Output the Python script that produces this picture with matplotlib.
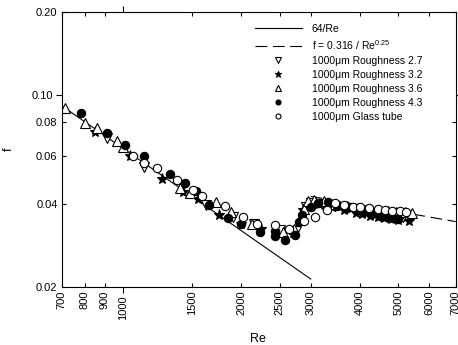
import matplotlib
matplotlib.use('Agg')
import matplotlib.pyplot as plt
import numpy as np

plt.rcParams['font.family'] = ['Liberation Sans', 'DejaVu Sans']
plt.rcParams['mathtext.fontset'] = 'custom'
plt.rcParams['mathtext.rm'] = 'Liberation Sans'
plt.rcParams['mathtext.default'] = 'regular'
plt.rcParams['lines.scale_dashes'] = False

# theory lines (end points, f from the formula in the legend)
re_lam = np.array([700, 3000])
re_turb = np.array([3000, 7000])

re_27 = [910, 1133, 1420, 1630, 1900, 2150, 2500, 2750, 2920, 3000, 3200, 3450, 3700, 3950,
         4200, 4400, 4650, 4900, 5150]
f_27 = [0.0695, 0.0545, 0.0465, 0.0397, 0.0360, 0.0338, 0.0322, 0.0318, 0.0390, 0.0405,
        0.0402, 0.0395, 0.0388, 0.0380, 0.0375, 0.0370, 0.0367, 0.0362, 0.0358]

re_32 = [852, 1044, 1256, 1422, 1553, 1752, 2000, 2250, 2700, 2870, 2950, 3150, 3400, 3650,
         3900, 4050, 4250, 4450, 4600, 4800, 5000, 5330]
f_32 = [0.0735, 0.0600, 0.0496, 0.0442, 0.0419, 0.0365, 0.0340, 0.0325, 0.0315, 0.0380,
        0.0395, 0.0400, 0.0392, 0.0380, 0.0372, 0.0368, 0.0362, 0.0358, 0.0356, 0.0353,
        0.0351, 0.0348]

re_36 = [714, 802, 859, 965, 1003, 1395, 1480, 1720, 1880, 2125, 2555, 2715, 2880, 2950,
         3050, 3250, 3450, 3700, 3950, 4200, 4450, 4700, 4950, 5200, 5420]
f_36 = [0.0895, 0.0793, 0.0757, 0.0680, 0.0645, 0.0458, 0.0440, 0.0408, 0.0375, 0.0340,
        0.0317, 0.0326, 0.0384, 0.0410, 0.0415, 0.0410, 0.0402, 0.0395, 0.0388, 0.0383,
        0.0380, 0.0377, 0.0375, 0.0373, 0.0372]

re_43 = [784, 910, 1013, 1133, 1318, 1435, 1536, 1660, 1850, 1993, 2235, 2430, 2440, 2580,
         2740, 2805, 2855, 3010, 3135, 3325, 3500, 3700, 3900, 4100, 4300, 4500, 4700, 4850,
         5010]
f_43 = [0.0858, 0.0725, 0.0657, 0.0597, 0.0515, 0.0476, 0.0447, 0.0397, 0.0355, 0.0339,
        0.0317, 0.0320, 0.0305, 0.0296, 0.0310, 0.0345, 0.0365, 0.0390, 0.0404, 0.0407,
        0.0395, 0.0388, 0.0382, 0.0375, 0.0368, 0.0363, 0.0360, 0.0357, 0.0354]

re_glass = [1063, 1133, 1219, 1370, 1510, 1593, 1815, 2020, 2190, 2440, 2650, 2880, 3075,
            3290, 3450, 3650, 3850, 4000, 4210, 4440, 4620, 4835, 5060, 5236]
f_glass = [0.0597, 0.0564, 0.0541, 0.0490, 0.0451, 0.0428, 0.0394, 0.0360, 0.0340, 0.0336,
           0.0325, 0.0348, 0.0360, 0.0381, 0.0405, 0.0398, 0.0392, 0.0390, 0.0387, 0.0384,
           0.0381, 0.0379, 0.0377, 0.0375]

x_ticks = [700, 800, 900, 1000, 1500, 2000, 2500, 3000, 4000, 5000, 6000, 7000]
y_ticks = [0.02, 0.04, 0.06, 0.08, 0.10, 0.20]
y_labels = ['0.02', '0.04', '0.06', '0.08', '0.10', '0.20']

fig = plt.figure(figsize=(4.58, 3.45), dpi=100)
ax = fig.add_axes([0.1347, 0.169, 0.8603, 0.7948])

ax.plot(re_lam, 64 / re_lam, color='black', lw=0.8, label='64/Re')
ax.plot(re_turb, 0.316 / re_turb ** 0.25, color='black', lw=0.8, dashes=(8.5, 4),
        label='f = 0.316 / Re$^{0.25}$')

mk = dict(ls='none', mec='black', mew=0.8)
ax.plot(re_27, f_27, marker='v', ms=7, mfc='white', label='1000μm Roughness 2.7', **mk)
ax.plot(re_32, f_32, marker='*', ms=8, mfc='black', label='1000μm Roughness 3.2', **mk)
ax.plot(re_36, f_36, marker='^', ms=7, mfc='white', label='1000μm Roughness 3.6', **mk)
ax.plot(re_43, f_43, marker='o', ms=6, mfc='black', label='1000μm Roughness 4.3', **mk)
ax.plot(re_glass, f_glass, marker='o', ms=6, mfc='white', label='1000μm Glass tube', **mk)

ax.set_xscale('log')
ax.set_yscale('log')
ax.set_xlim(700, 7000)
ax.set_ylim(0.02, 0.2)

# major ticks (1000, 0.1) point out, the rest point in
ax.xaxis.set_major_locator(matplotlib.ticker.FixedLocator([1000]))
ax.xaxis.set_major_formatter(matplotlib.ticker.FixedFormatter(['1000']))
ax.xaxis.set_minor_locator(matplotlib.ticker.FixedLocator([t for t in x_ticks if t != 1000]))
ax.xaxis.set_minor_formatter(matplotlib.ticker.FixedFormatter([str(t) for t in x_ticks if t != 1000]))
ax.yaxis.set_major_locator(matplotlib.ticker.FixedLocator([0.1]))
ax.yaxis.set_major_formatter(matplotlib.ticker.FixedFormatter(['0.10']))
ax.yaxis.set_minor_locator(matplotlib.ticker.FixedLocator([t for t in y_ticks if t != 0.1]))
ax.yaxis.set_minor_formatter(matplotlib.ticker.FixedFormatter([l for l in y_labels if l != '0.10']))

ax.tick_params(which='major', direction='out', length=4, width=0.8, top=True, right=True,
               labelsize=8, pad=2)
ax.tick_params(which='minor', direction='in', length=3, width=0.8, top=True, right=True,
               labelsize=8, pad=3)
ax.tick_params(axis='x', which='both', labelrotation=90)
for s in ax.spines.values():
    s.set_linewidth(0.8)

ax.set_xlabel('Re', fontsize=9)
ax.set_ylabel('f', fontsize=9)
ax.xaxis.set_label_coords(0.498, -0.17)
ax.yaxis.set_label_coords(-0.118, 0.5)

ax.legend(loc='upper left', bbox_to_anchor=(0.4906, 0.958), frameon=False, fontsize=7.5,
          handlelength=4.5, handletextpad=0.95, labelspacing=0.38, borderpad=0,
          borderaxespad=0, markerscale=0.6)

fig.savefig('out.png', dpi=100)
